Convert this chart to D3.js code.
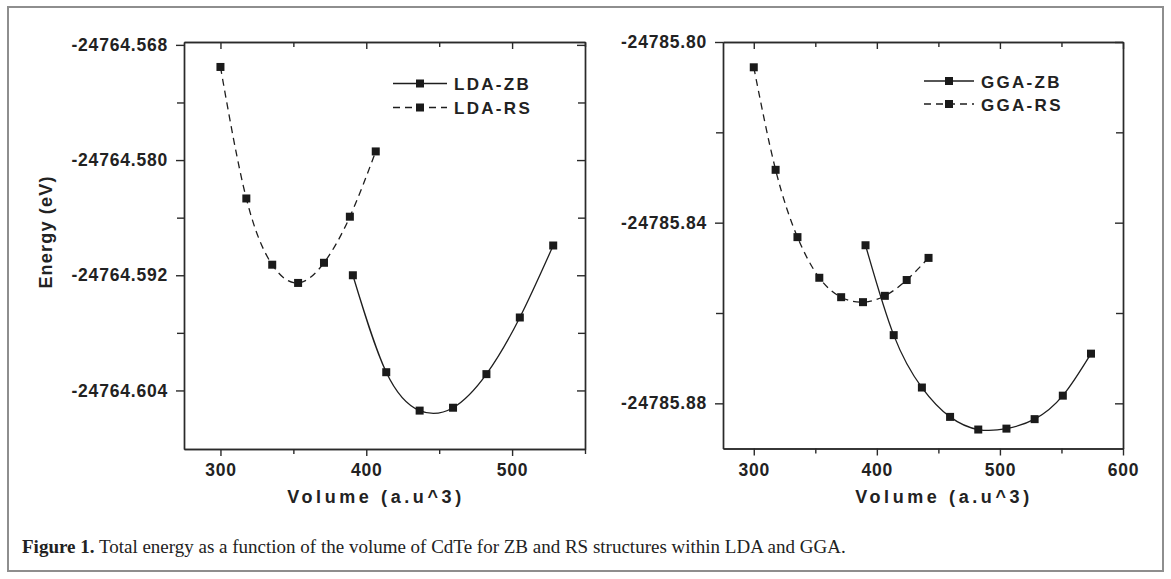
<!DOCTYPE html>
<html>
<head>
<meta charset="utf-8">
<script src="https://cdn.jsdelivr.net/npm/d3@7"></script>
<style>
  body { margin: 0; background: #fff; }
  text { fill: #222; }
</style>
</head>
<body>
<div id="chart"></div>
<script>
// volumes (a.u^3)
var rsVolume = [300, 317.75, 335.5, 353.25, 371, 388.75, 406.5, 424.25, 442];
var zbVolume = [390.8, 413.7, 436.6, 459.5, 482.4, 505.3, 528.2, 551.1, 574.0];

// energies (eV)
var ldaZB = [-24764.5920, -24764.6021, -24764.6061, -24764.6058, -24764.6023, -24764.5964, -24764.5889];
var ldaRS = [-24764.5703, -24764.5840, -24764.5909, -24764.5928, -24764.5907, -24764.5859, -24764.5791];
var ggaZB = [-24785.8450, -24785.8649, -24785.8765, -24785.8830, -24785.8858, -24785.8856, -24785.8835, -24785.8783, -24785.8690];
var ggaRS = [-24785.8056, -24785.8283, -24785.8432, -24785.8522, -24785.8565, -24785.8576, -24785.8562, -24785.8527, -24785.8478];

// ticks
var ldaYMajor = [-24764.568, -24764.580, -24764.592, -24764.604];
var ldaYLabels = ["-24764.568", "-24764.580", "-24764.592", "-24764.604"];
var ldaYMinor = [-24764.574, -24764.586, -24764.598];
var ggaYMajor = [-24785.80, -24785.84, -24785.88];
var ggaYLabels = ["-24785.80", "-24785.84", "-24785.88"];
var ggaYMinor = [-24785.82, -24785.86];
var ldaXMajor = [300, 400, 500];
var ggaXMajor = [300, 400, 500, 600];
var xMinor = [350, 450, 550];

var svg = d3.select("#chart").append("svg")
    .attr("width", 1171)
    .attr("height", 579);

// outer frame
svg.append("rect")
    .attr("x", 8).attr("y", 7)
    .attr("width", 1155).attr("height", 564)
    .attr("fill", "none")
    .attr("stroke", "#8e8e8e")
    .attr("stroke-width", 2);

var font = "'Liberation Sans', Arial, sans-serif";

function panel(opt) {
    var x = d3.scaleLinear().domain(opt.xDomain).range([opt.left, opt.right]);
    var y = d3.scaleLinear().domain(opt.yDomain).range([opt.bottom, opt.top]);
    var g = svg.append("g");

    function style(ax) {
        ax.selectAll("path, line").attr("stroke", "#2a2a2a").attr("stroke-width", 1.4);
        ax.selectAll("text")
            .attr("font-family", font)
            .attr("font-weight", "bold")
            .attr("font-size", "17.5px")
            .attr("letter-spacing", "0.8px")
            .attr("fill", "#222");
    }

    // bottom
    style(g.append("g").attr("transform", "translate(0," + opt.bottom + ")")
        .call(d3.axisBottom(x).tickValues(opt.xMajor).tickSize(7).tickSizeOuter(0).tickPadding(8).tickFormat(d3.format("d"))));
    style(g.append("g").attr("transform", "translate(0," + opt.bottom + ")")
        .call(d3.axisBottom(x).tickValues(xMinor).tickSize(5).tickSizeOuter(0).tickFormat("")));
    // top
    style(g.append("g").attr("transform", "translate(0," + opt.top + ")")
        .call(d3.axisTop(x).tickValues(opt.xMajor).tickSize(-7).tickSizeOuter(0).tickFormat("")));
    style(g.append("g").attr("transform", "translate(0," + opt.top + ")")
        .call(d3.axisTop(x).tickValues(xMinor).tickSize(-5).tickSizeOuter(0).tickFormat("")));
    // left
    style(g.append("g").attr("transform", "translate(" + opt.left + ",0)")
        .call(d3.axisLeft(y).tickValues(opt.yMajor).tickSize(8).tickSizeOuter(0).tickPadding(8)
            .tickFormat(function (d, i) { return opt.yLabels[i]; })));
    style(g.append("g").attr("transform", "translate(" + opt.left + ",0)")
        .call(d3.axisLeft(y).tickValues(opt.yMinor).tickSize(7).tickSizeOuter(0).tickFormat("")));
    // right
    style(g.append("g").attr("transform", "translate(" + opt.right + ",0)")
        .call(d3.axisRight(y).tickValues(opt.yMajor).tickSize(-8).tickSizeOuter(0).tickFormat("")));
    style(g.append("g").attr("transform", "translate(" + opt.right + ",0)")
        .call(d3.axisRight(y).tickValues(opt.yMinor).tickSize(-7).tickSizeOuter(0).tickFormat("")));

    var line = d3.line()
        .x(function (d) { return x(d[0]); })
        .y(function (d) { return y(d[1]); })
        .curve(d3.curveNatural);

    opt.series.forEach(function (s) {
        var pts = s.values.map(function (v, i) { return [s.vol[i], v]; });
        g.append("path")
            .datum(pts)
            .attr("d", line)
            .attr("fill", "none")
            .attr("stroke", "#1e1e1e")
            .attr("stroke-width", 1.3)
            .attr("stroke-dasharray", s.dash ? "7,5" : null);
        g.selectAll(null)
            .data(pts)
            .enter()
            .append("rect")
            .attr("x", function (d) { return x(d[0]) - 4; })
            .attr("y", function (d) { return y(d[1]) - 4; })
            .attr("width", 8).attr("height", 8)
            .attr("fill", "#1a1a1a");
    });

    // legend
    opt.series.forEach(function (s, i) {
        var ly = opt.legendY[i];
        g.append("line")
            .attr("x1", opt.legendX[0]).attr("x2", opt.legendX[1])
            .attr("y1", ly).attr("y2", ly)
            .attr("stroke", "#1e1e1e")
            .attr("stroke-width", 1.3)
            .attr("stroke-dasharray", s.dash ? "7,5" : null);
        var mx = (opt.legendX[0] + opt.legendX[1]) / 2;
        g.append("rect")
            .attr("x", mx - 4).attr("y", ly - 4)
            .attr("width", 8).attr("height", 8)
            .attr("fill", "#1a1a1a");
        g.append("text")
            .attr("x", opt.legendX[1] + 7)
            .attr("y", ly + 6.5)
            .attr("font-family", font)
            .attr("font-weight", "bold")
            .attr("font-size", "17px")
            .attr("letter-spacing", "2.3px")
            .text(s.name);
    });

    // x title
    g.append("text")
        .attr("x", opt.titleX)
        .attr("y", 503)
        .attr("text-anchor", "middle")
        .attr("font-family", font)
        .attr("font-weight", "bold")
        .attr("font-size", "18px")
        .attr("letter-spacing", "3.6px")
        .text("Volume (a.u^3)");
}

panel({
    left: 184, right: 585, top: 42, bottom: 449,
    xDomain: [275, 550],
    yDomain: [-24764.6101, -24764.5677],
    xMajor: ldaXMajor,
    yMajor: ldaYMajor, yLabels: ldaYLabels, yMinor: ldaYMinor,
    series: [
        { name: "LDA-ZB", vol: zbVolume, values: ldaZB, dash: false },
        { name: "LDA-RS", vol: rsVolume, values: ldaRS, dash: true }
    ],
    legendX: [393, 447], legendY: [83.5, 107.5],
    titleX: 376
});

panel({
    left: 723, right: 1123, top: 42, bottom: 448.5,
    xDomain: [275, 600],
    yDomain: [-24785.89, -24785.80],
    xMajor: ggaXMajor,
    yMajor: ggaYMajor, yLabels: ggaYLabels, yMinor: ggaYMinor,
    series: [
        { name: "GGA-ZB", vol: zbVolume, values: ggaZB, dash: false },
        { name: "GGA-RS", vol: rsVolume, values: ggaRS, dash: true }
    ],
    legendX: [924, 974], legendY: [81, 104],
    titleX: 944
});

// y title
svg.append("text")
    .attr("transform", "translate(52,232) rotate(-90)")
    .attr("text-anchor", "middle")
    .attr("font-family", font)
    .attr("font-weight", "bold")
    .attr("font-size", "18px")
    .attr("letter-spacing", "1.2px")
    .text("Energy (eV)");

// caption
var cap = svg.append("text")
    .attr("x", 22)
    .attr("y", 553)
    .attr("font-family", "'Liberation Serif', 'Times New Roman', serif")
    .attr("font-size", "19px");
cap.append("tspan").attr("font-weight", "bold").text("Figure 1.");
cap.append("tspan").text(" Total energy as a function of the volume of CdTe for ZB and RS structures within LDA and GGA.");
</script>
</body>
</html>
